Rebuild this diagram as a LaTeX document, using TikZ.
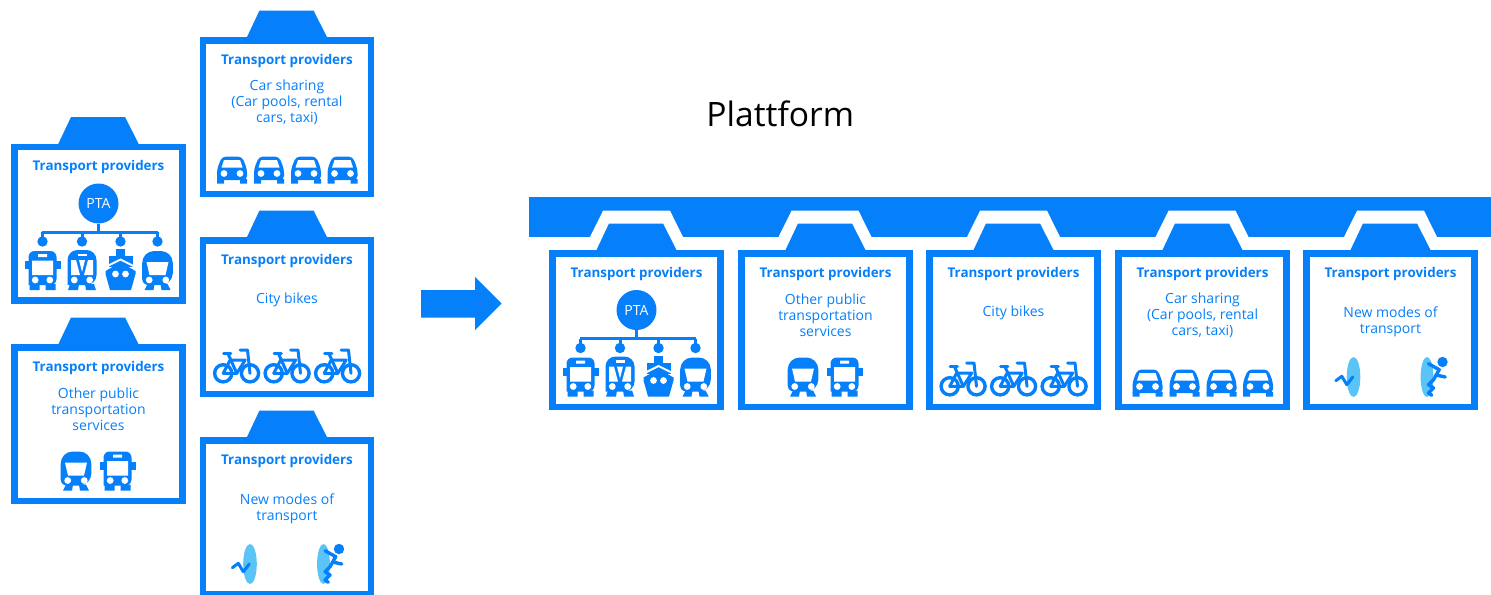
\documentclass[tikz,border=0pt]{standalone}
\usepackage{fontspec}
\setmainfont{Open Sans}
\definecolor{CardClr}{RGB}{5,127,250}
\definecolor{PortalClr}{RGB}{90,195,248}
\newcommand{\TitleFont}{\fontsize{6.7}{8}\selectfont\bfseries}
\newcommand{\BodyFont}{\fontsize{7}{8}\selectfont}

\tikzset{
  cardtext/.style={text=CardClr,inner sep=0pt,align=center,font=\BodyFont},
  thickline/.style={draw=CardClr,line width=1.7pt,line cap=round,line join=round},
  treeline/.style={draw=CardClr,line width=1.5pt},
  cardline/.style={draw=CardClr,line width=3.25pt},
  hole/.style={fill=white},
  blue/.style={fill=CardClr},
  card/.pic={
    \fill[blue] (47,1) -- (60,-26.5) -- (114,-26.5) -- (128,1) -- cycle;
    \draw[cardline] (3.25,3.25) rectangle (171.25,156.75);
    \node[cardtext,font=\TitleFont] (title) at (87.5,24) {Transport providers};
  },
  bus/.pic={
    \fill[blue] (-14,-19) [rounded corners=3pt] -- (14,-19) -- (14,15) [sharp corners] -- (-14,15) [rounded corners=3pt] -- cycle;
    \fill[blue] (-18,-9) rectangle (18,-1);
    \fill[blue] (-13,14) rectangle (-3,20) (3,14) rectangle (13,20);
    \fill[hole] (-10.5,-9.3) rectangle (10.5,5) (-4.5,-16) rectangle (4.5,-13);
    \fill[hole] (-7.3,10) circle (1.7pt) (7.3,10) circle (1.7pt);
  },
  tram/.pic={
    \fill[blue] (-14.5,-20) [rounded corners=5pt] -- (14.5,-20) -- (14.5,15) [sharp corners] -- (-14.5,15) [rounded corners=5pt] -- cycle;
    \fill[blue] (-12,14) -- (-14,20) -- (-4,20) -- (-3,14) -- cycle (12,14) -- (14,20) -- (4,20) -- (3,14) -- cycle;
    \fill[hole] (-4.5,-16.5) rectangle (4.5,-14);
    \fill[hole] (-11,-10) -- (-6,-10) -- (-2,5) -- (-11,5) -- cycle;
    \fill[hole] (11,-10) -- (6,-10) -- (2,5) -- (11,5) -- cycle;
    \fill[hole] (-3,-10) -- (3,-10) -- (0,2) -- cycle;
    \fill[hole] (-7.7,10) circle (1.7pt) (7.7,10) circle (1.7pt);
  },
  ship/.pic={
    \fill[blue] (-4.5,-21) rectangle (4.5,-10);
    \fill[blue] (-12,-14) rectangle (12,-3);
    \draw[white,line width=1pt] (-16,-2.5) -- (0,-10.5) -- (16,-2.5);
    \fill[blue] (0,-7.5) -- (15,1) -- (15,4) -- (10.5,20) -- (-10.5,20) -- (-15,4) -- (-15,1) -- cycle;
    \fill[hole] (-5,4) circle (1.7pt) (5,4) circle (1.7pt);
  },
  train/.pic={
    \fill[blue] (-15.3,-19) [rounded corners=6pt] -- (15.3,-19) -- (15.3,15) [rounded corners=3pt] -- (-15.3,15) [rounded corners=6pt] -- cycle;
    \fill[blue] (-10,14) -- (-13,20) -- (-4,20) -- (-3,14) -- cycle (10,14) -- (13,20) -- (4,20) -- (3,14) -- cycle;
    \fill[hole] (-11,-8) -- (11,-8) -- (8,5) -- (-8,5) -- cycle;
    \fill[hole] (-8.3,10) circle (1.7pt) (8.3,10) circle (1.7pt);
  },
  car/.pic={
    \fill[blue] (-15,10) [rounded corners=2pt] -- (-15,-1) -- (-10,-13.5) -- (10,-13.5) -- (15,-1) -- (15,10) [sharp corners] -- cycle;
    \fill[blue] (-15,9) rectangle (-8,13.5) (8,9) rectangle (15,13.5);
    \fill[hole] (-8,-10) -- (8,-10) -- (10.5,-2.5) -- (-10.5,-2.5) -- cycle;
    \fill[hole] (-8,3.5) circle (1.7pt) (8,3.5) circle (1.7pt);
  },
  bike/.pic={
    \draw[thickline] (-13.3,7.3) circle (4.3pt) (13.5,7.3) circle (4.3pt);
    \draw[thickline,line width=1.5pt] (-13.3,7.3) -- (0.3,7.3) -- (8.7,-6) -- (-6.3,-6) -- (-13.3,7.3);
    \draw[thickline,line width=1.5pt] (-8.7,-12.7) -- (0.3,7.3);
    \draw[thickline,line width=1.5pt] (-13,-12.7) -- (-5.7,-12.7);
    \draw[thickline,line width=1.5pt] (3.7,-16) -- (11,-16) -- (13.5,7.3);
  },
  ptacard/.pic={
    \pic {card};
    \node[circle,blue,text=white,minimum size=20pt,inner sep=0pt,font=\BodyFont] (pta) at (87.5,60) {PTA};
    \coordinate (bar) at (87.5,88.5);
    \draw[treeline] (pta) -- (bar);
    \draw[treeline] (30.75,88.5) -- (147.25,88.5);
    \foreach \x in {31.5,71,109.5,146.5} {
      \draw[treeline] (\x,88.5) -- (\x,98);
      \fill[blue] (\x,98) circle (2.6pt);
    }
    \pic at (31.5,126.5) {bus};
    \pic at (71,126.5) {tram};
    \pic at (109.5,126.5) {ship};
    \pic at (146.5,126.5) {train};
  },
  othercard/.pic={
    \pic {card};
    \node[cardtext] (kind) at (87.5,65) {Other public\\transportation\\services};
    \pic at (65,126.5) {train};
    \pic at (106.5,126.5) {bus};
  },
  carcard/.pic={
    \pic {card};
    \node[cardtext] (kind) at (87.5,65.5) {Car sharing\\(Car pools, rental\\cars, taxi)};
    \foreach \x in {32.5,69.5,106.5,143} {
      \pic at (\x,133) {car};
    }
  },
  bikecard/.pic={
    \pic {card};
    \node[cardtext] (kind) at (87.5,63) {City bikes};
    \foreach \x in {37,87.5,138} {
      \pic at (\x,129) {bike};
    }
  },
  newcard/.pic={
    \pic {card};
    \node[cardtext] (kind) at (87.5,71.5) {New modes of\\transport};
    \fill[PortalClr] (50.5,127) ellipse (3.4pt and 10pt);
    \fill[PortalClr] (124,127) ellipse (3.2pt and 10pt);
    \draw[thickline,line width=1.5pt] (32.8,130.7) -- (38.8,126.3) -- (43.8,134.7) -- (49.8,127);
    \fill[blue] (139.5,112) circle (2.6pt);
    \draw[thickline] (125.5,113.7) -- (136.2,119.7) -- (130.5,129.7) -- (125.5,134.7) -- (130.5,138) -- (125.5,143) -- (128.8,145.3);
    \draw[thickline] (133,125) -- (142.2,127);
  },
}

\begin{document}
\begin{tikzpicture}[x=.5pt,y=-.5pt]
\clip (0,0) rectangle (1491,594);

% Cards on the left
\pic (ptaleft) at (11,143.5) {ptacard};
\pic (otherleft) at (11,344) {othercard};
\pic (carleft) at (199.5,37) {carcard};
\pic (bikeleft) at (199.5,237) {bikecard};
\pic (newleft) at (199.5,437) {newcard};

\fill[blue] (421,290) -- (475,290) -- (475,277) -- (501.7,303.5) -- (475,330) -- (475,317.7) -- (421,317.7) -- cycle;

\node[inner sep=0pt,anchor=base west,font=\fontsize{16.8}{20}\selectfont] (plattform) at (706,126) {Plattform};

\fill[blue] (529,197) rectangle (1491,237);
\foreach \x in {636.5,825,1013.5,1202,1390.5} {
  \fill[white] (\x-47,238) -- (\x-33.5,210.7) -- (\x+33.5,210.7) -- (\x+47,238) -- cycle;
}

% Cards under the bar
\pic (ptaright) at (549,250) {ptacard};
\pic (otherright) at (738,250) {othercard};
\pic (bikeright) at (926,250) {bikecard};
\pic (carright) at (1115,250) {carcard};
\pic (newright) at (1303,250) {newcard};

\end{tikzpicture}
\end{document}
